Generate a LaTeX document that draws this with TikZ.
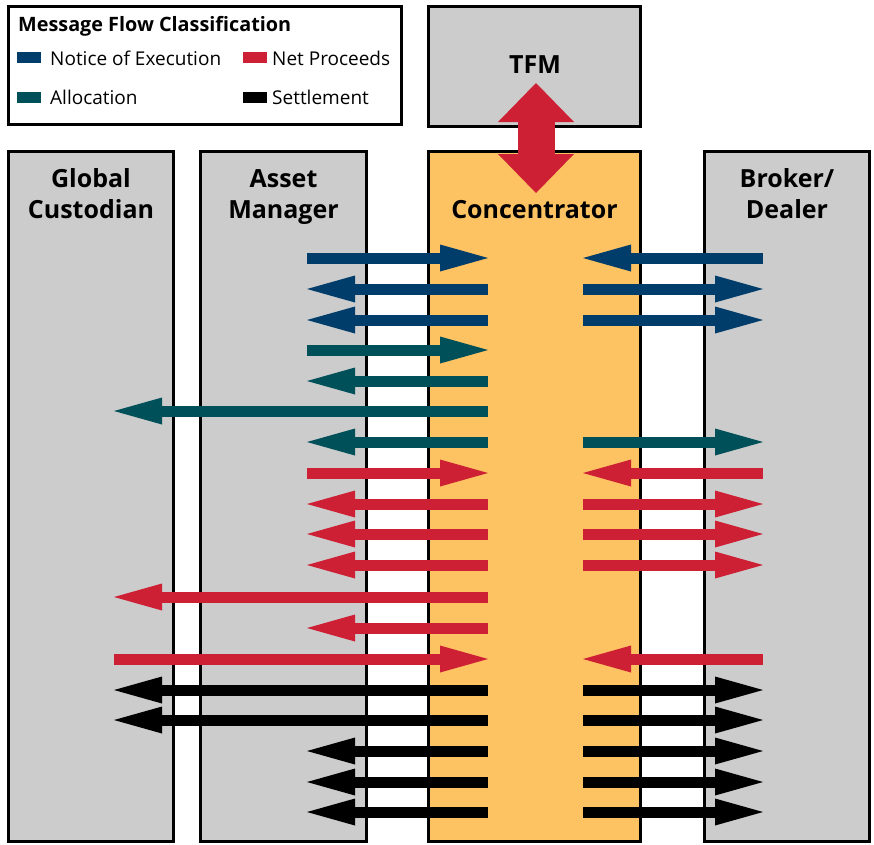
\documentclass[tikz,border=0pt]{standalone}
\usepackage{fontspec}
\setmainfont{Open Sans}
\usetikzlibrary{arrows.meta}

\definecolor{flownavy}{RGB}{0,61,107}
\definecolor{flowteal}{RGB}{0,80,90}
\definecolor{flowred}{RGB}{206,32,52}
\definecolor{boxgray}{RGB}{204,204,204}
\definecolor{concorange}{RGB}{253,194,98}

\tikzset{
  box/.style={draw=black, line width=3pt, fill=boxgray, rectangle,
    inner sep=0pt, outer sep=0pt, anchor=north west},
  boxlabel/.style={font=\bfseries\fontsize{25}{25}\selectfont, anchor=base, inner sep=0pt},
  legtitle/.style={font=\bfseries\fontsize{19.8}{20}\selectfont, anchor=base west, inner sep=0pt},
  legtext/.style={font=\fontsize{19}{19}\selectfont, anchor=base west, inner sep=0pt},
  swatch/.style={rectangle, inner sep=0pt, minimum width=24pt, minimum height=11pt, anchor=west},
  flow/.style={line width=11pt,
    -{Triangle[length=48pt,width=27pt,line width=0pt]}},
  bigflow/.style={line width=37pt, draw=flowred,
    {Triangle[length=39pt,width=76pt,line width=0pt]}-{Triangle[length=39pt,width=76pt,line width=0pt]}},
}

% one fat arrow on row #2 (pixel y), colour #1, from column #3 to column #4
\newcommand{\flowarrow}[4]{%
  \draw[flow, draw=#1] ([yshift=-#2pt]#3) -- ([yshift=-#2pt]#4);}

\begin{document}
\begin{tikzpicture}[x=1pt, y=-1pt]
\useasboundingbox (0,0) rectangle (874,844);

% legend
\node[box, fill=white, minimum width=393pt, minimum height=118pt] (legend) at (8.5,6.5) {};
\node[legtitle] (legtitle) at (18,31) {Message Flow Classification};
\node[swatch, fill=flownavy] (swnav) at (17,57) {};
\node[legtext] (lgnav) at (50,65) {Notice of Execution};
\node[swatch, fill=flowred] (swred) at (243,57) {};
\node[legtext] (lgred) at (272,65) {Net Proceeds};
\node[swatch, fill=flowteal] (swteal) at (17,97) {};
\node[legtext] (lgteal) at (50,104) {Allocation};
\node[swatch, fill=black] (swblk) at (243,97) {};
\node[legtext] (lgblk) at (272,104) {Settlement};

% parties
\node[box, minimum width=212pt, minimum height=119.5pt] (tfm) at (428.5,6.5) {};
\node[boxlabel] (tfmlab) at (535,73) {TFM};
\node[box, minimum width=165pt, minimum height=690.5pt] (gc) at (8.5,151) {};
\node[box, minimum width=166pt, minimum height=690.5pt] (am) at (200.5,151) {};
\node[box, fill=concorange, minimum width=212pt, minimum height=690.5pt] (conc) at (428.5,151) {};
\node[box, minimum width=165pt, minimum height=690.5pt] (bd) at (704.5,151) {};

\node[boxlabel] (gclab1) at (91,187) {Global};
\node[boxlabel] (gclab2) at (91,218) {Custodian};
\node[boxlabel] (amlab1) at (283.5,187) {Asset};
\node[boxlabel] (amlab2) at (283.5,218) {Manager};
\node[boxlabel] (conclab) at (534.5,218) {Concentrator};
\node[boxlabel] (bdlab1) at (787,187) {Broker/};
\node[boxlabel] (bdlab2) at (787,218) {Dealer};

% TFM <-> Concentrator
\coordinate (tfmtip) at (536,83);
\coordinate (conctip) at (536,193);
\draw[bigflow] (tfmtip) -- (conctip);

% arrow columns
\coordinate (gcx) at (114,0);
\coordinate (amx) at (307,0);
\coordinate (cl) at (488,0);
\coordinate (cr) at (583,0);
\coordinate (bdx) at (763,0);

% notice of execution
\flowarrow{flownavy}{258}{amx}{cl}
\flowarrow{flownavy}{258}{bdx}{cr}
\flowarrow{flownavy}{289}{cl}{amx}
\flowarrow{flownavy}{289}{cr}{bdx}
\flowarrow{flownavy}{320}{cl}{amx}
\flowarrow{flownavy}{320}{cr}{bdx}
% allocation
\flowarrow{flowteal}{350}{amx}{cl}
\flowarrow{flowteal}{381}{cl}{amx}
\flowarrow{flowteal}{411}{cl}{gcx}
\flowarrow{flowteal}{442}{cl}{amx}
\flowarrow{flowteal}{442}{cr}{bdx}
% net proceeds
\flowarrow{flowred}{473}{amx}{cl}
\flowarrow{flowred}{473}{bdx}{cr}
\flowarrow{flowred}{504}{cl}{amx}
\flowarrow{flowred}{504}{cr}{bdx}
\flowarrow{flowred}{534}{cl}{amx}
\flowarrow{flowred}{534}{cr}{bdx}
\flowarrow{flowred}{565}{cl}{amx}
\flowarrow{flowred}{565}{cr}{bdx}
\flowarrow{flowred}{597}{cl}{gcx}
\flowarrow{flowred}{628}{cl}{amx}
\flowarrow{flowred}{659}{gcx}{cl}
\flowarrow{flowred}{659}{bdx}{cr}
% settlement
\flowarrow{black}{690}{cl}{gcx}
\flowarrow{black}{690}{cr}{bdx}
\flowarrow{black}{720}{cl}{gcx}
\flowarrow{black}{720}{cr}{bdx}
\flowarrow{black}{751}{cl}{amx}
\flowarrow{black}{751}{cr}{bdx}
\flowarrow{black}{782}{cl}{amx}
\flowarrow{black}{782}{cr}{bdx}
\flowarrow{black}{812}{cl}{amx}
\flowarrow{black}{812}{cr}{bdx}
\end{tikzpicture}
\end{document}
